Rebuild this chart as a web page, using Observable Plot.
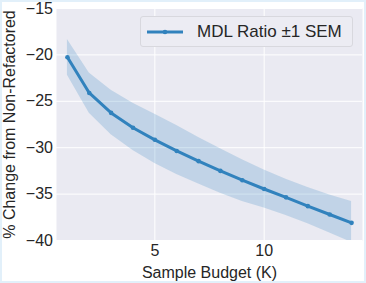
<!DOCTYPE html>
<html>
<head>
<meta charset="utf-8">
<script src="https://cdn.jsdelivr.net/npm/d3@7"></script>
<script src="https://cdn.jsdelivr.net/npm/@observablehq/plot@0.6"></script>
<style>
  html, body { margin: 0; padding: 0; background: #ffffff; }
  #wrap { position: relative; width: 366px; height: 283px; overflow: hidden; font-family: "Liberation Sans", Arial, sans-serif; }
  #wrap svg { position: absolute; left: 0; top: 0; }
  #border { position: absolute; left: 0; top: 0; width: 366px; height: 283px; box-sizing: border-box; border: 2px solid #e2f0fa; pointer-events: none; }
  #legend { position: absolute; left: 140px; top: 16px; width: 213px; height: 31px; box-sizing: border-box;
            background: #ececf3; border: 1px solid #d8d8de; border-radius: 3px; display: flex; align-items: center; }
  #legend svg { position: static; margin-left: 5px; }
  #legend span { margin-left: 13px; font-size: 17px; color: #262626; white-space: nowrap; }
</style>
</head>
<body>
<div id="wrap"></div>
<script>
// Data
const budgetK  = [1, 2, 3, 4, 5, 6, 7, 8, 9, 10, 11, 12, 13, 14];
const mdlMean  = [-20.25, -24.1, -26.25, -27.85, -29.15, -30.35, -31.45, -32.5, -33.5, -34.45, -35.35, -36.3, -37.2, -38.1];
const semUpper = [-18.35, -21.95, -23.8, -25.2, -26.4, -27.6, -28.9, -30.1, -31.3, -32.4, -33.4, -34.3, -35.1, -35.8];
const semLower = [-22.2, -26.3, -28.6, -30.3, -31.7, -32.9, -33.9, -34.9, -35.8, -36.5, -37.3, -38.2, -39.2, -40.2];
const xTicks = [5, 10];
const yTicks = [-40, -35, -30, -25, -20, -15];
const seriesLabel = "MDL Ratio ±1 SEM";
const xLabel = "Sample Budget (K)";
const yLabel = "% Change from Non-Refactored";

const lineColor = "#3182bd";
const data = budgetK.map((k, i) => ({k, mean: mdlMean[i], lo: semLower[i], hi: semUpper[i]}));
const fmt = d => String(d).replace("-", "\u2212");

const chart = Plot.plot({
  width: 366,
  height: 283,
  marginLeft: 56,
  marginRight: 4,
  marginTop: 8,
  marginBottom: 43,
  style: {fontFamily: "'Liberation Sans', Arial, sans-serif", fontSize: "16px", color: "#262626", background: "transparent"},
  x: {domain: [0.5, 14.5]},
  y: {domain: [-40, -15]},
  marks: [
    Plot.frame({fill: "#eaeaf2", stroke: null}),
    Plot.gridX(xTicks, {stroke: "#ffffff", strokeOpacity: 1, strokeWidth: 1}),
    Plot.gridY(yTicks, {stroke: "#ffffff", strokeOpacity: 1, strokeWidth: 1}),
    Plot.areaY(data, {x: "k", y1: "lo", y2: "hi", fill: lineColor, fillOpacity: 0.22, clip: true}),
    Plot.lineY(data, {x: "k", y: "mean", stroke: lineColor, strokeWidth: 3, clip: true}),
    Plot.dot(data, {x: "k", y: "mean", fill: lineColor, r: 2.3, stroke: null}),
    Plot.axisX(xTicks, {tickSize: 0, tickPadding: 4, tickFormat: fmt, label: xLabel, labelAnchor: "center", labelArrow: "none", labelOffset: 37.5, fontSize: 16}),
    Plot.axisY(yTicks, {tickSize: 0, tickPadding: 3.5, tickFormat: fmt, label: yLabel, labelAnchor: "center", labelArrow: "none", labelOffset: 52.5, fontSize: 16})
  ]
});

const wrap = document.getElementById("wrap");
wrap.appendChild(chart);

// Legend
const legend = document.createElement("div");
legend.id = "legend";
legend.innerHTML = `<svg width="38" height="10"><line x1="1" y1="5" x2="37" y2="5" stroke="${lineColor}" stroke-width="3"/><circle cx="19" cy="5" r="2.3" fill="${lineColor}"/></svg><span></span>`;
legend.querySelector("span").textContent = seriesLabel;
wrap.appendChild(legend);

const border = document.createElement("div");
border.id = "border";
wrap.appendChild(border);
</script>
</body>
</html>
